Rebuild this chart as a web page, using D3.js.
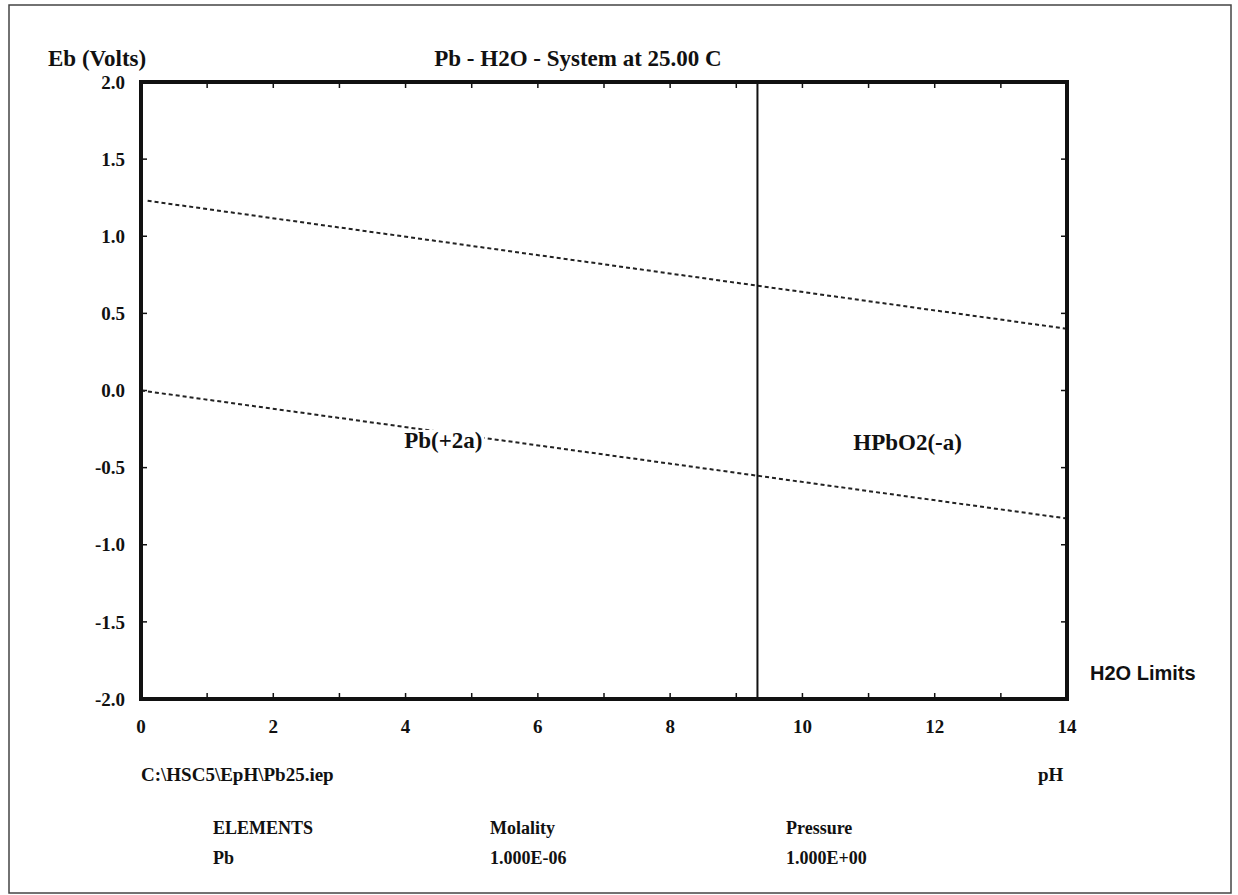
<!DOCTYPE html>
<html lang="en">

<head>
    <meta charset="UTF-8">
    <title>Pb - H2O - System</title>
    <script src="https://d3js.org/d3.v7.min.js"></script>
    <style>
        body {
            margin: 0;
            background: #fff;
        }

        text {
            font-family: "Liberation Serif", "Times New Roman", serif;
            font-weight: bold;
            font-size: 19px;
            fill: #111;
        }

        .big {
            font-size: 23px;
        }

        .foot {
            font-size: 18px;
        }

        .sans {
            font-family: "Liberation Sans", Arial, sans-serif;
            font-weight: bold;
            font-size: 20px;
        }
    </style>
</head>

<body>
    <svg id="chart" width="1238" height="895"></svg>

    <script>
        // Values
        const xTicks = [0, 1, 2, 3, 4, 5, 6, 7, 8, 9, 10, 11, 12, 13, 14];
        const xTickLabels = [0, 2, 4, 6, 8, 10, 12, 14];
        const yTicks = [2.0, 1.5, 1.0, 0.5, 0.0, -0.5, -1.0, -1.5, -2.0];

        // water stability limits (dashed)
        const upperLimit = [{ ph: 0.1, eb: 1.23 }, { ph: 14, eb: 0.40 }];
        const lowerLimit = [{ ph: 0, eb: 0.0 }, { ph: 14, eb: -0.83 }];

        // Pb(+2a) / HPbO2(-a) boundary
        const boundaryPh = 9.32;

        const regions = [
            { name: "Pb(+2a)", ph: 4.57, eb: -0.32 },
            { name: "HPbO2(-a)", ph: 11.59, eb: -0.335 }
        ];

        const elements = ["Pb"];
        const molality = ["1.000E-06"];
        const pressure = ["1.000E+00"];

        const svg = d3.select("#chart");

        // page frame
        svg.append("rect")
            .attr("x", 9).attr("y", 5)
            .attr("width", 1222).attr("height", 888)
            .attr("fill", "none")
            .attr("stroke", "#444")
            .attr("stroke-width", 1.5);

        const x = d3.scaleLinear().domain([0, 14]).range([141, 1067]);
        const y = d3.scaleLinear().domain([-2, 2]).range([699, 82]);

        // inward ticks on all four sides
        const tickLen = 6;
        svg.append("g").selectAll("line.bt")
            .data(xTicks).enter().append("line")
            .attr("x1", d => x(d)).attr("x2", d => x(d))
            .attr("y1", y(-2)).attr("y2", y(-2) - tickLen)
            .attr("stroke", "#111").attr("stroke-width", 1.5);
        svg.append("g").selectAll("line.tt")
            .data(xTicks).enter().append("line")
            .attr("x1", d => x(d)).attr("x2", d => x(d))
            .attr("y1", y(2)).attr("y2", y(2) + tickLen)
            .attr("stroke", "#111").attr("stroke-width", 1.5);
        svg.append("g").selectAll("line.lt")
            .data(yTicks).enter().append("line")
            .attr("x1", x(0)).attr("x2", x(0) + tickLen)
            .attr("y1", d => y(d)).attr("y2", d => y(d))
            .attr("stroke", "#111").attr("stroke-width", 1.5);
        svg.append("g").selectAll("line.rt")
            .data(yTicks).enter().append("line")
            .attr("x1", x(14)).attr("x2", x(14) - tickLen)
            .attr("y1", d => y(d)).attr("y2", d => y(d))
            .attr("stroke", "#111").attr("stroke-width", 1.5);

        // tick labels
        svg.append("g").selectAll("text")
            .data(xTickLabels).enter().append("text")
            .attr("x", d => x(d))
            .attr("y", y(-2) + 34)
            .attr("text-anchor", "middle")
            .text(d => d);

        svg.append("g").selectAll("text")
            .data(yTicks).enter().append("text")
            .attr("x", x(0) - 16)
            .attr("y", d => y(d))
            .attr("dy", "0.35em")
            .attr("text-anchor", "end")
            .text(d => d.toFixed(1));

        // H2O limit lines
        const line = d3.line().x(d => x(d.ph)).y(d => y(d.eb));
        [upperLimit, lowerLimit].forEach(l => {
            svg.append("path")
                .datum(l)
                .attr("d", line)
                .attr("fill", "none")
                .attr("stroke", "#222")
                .attr("stroke-width", 2)
                .attr("stroke-dasharray", "4,3");
        });

        // phase boundary
        svg.append("line")
            .attr("x1", x(boundaryPh)).attr("x2", x(boundaryPh))
            .attr("y1", y(2)).attr("y2", y(-2))
            .attr("stroke", "#111").attr("stroke-width", 2);

        // region labels, masking the dashed line behind them
        const lab = svg.append("g").selectAll("g")
            .data(regions).enter().append("g")
            .attr("transform", d => `translate(${x(d.ph)},${y(d.eb)})`);
        lab.append("text")
            .attr("class", "big")
            .attr("text-anchor", "middle")
            .attr("dy", "0.35em")
            .text(d => d.name)
            .each(function () {
                const b = this.getBBox();
                d3.select(this.parentNode).insert("rect", "text")
                    .attr("x", b.x - 2).attr("y", b.y + 2)
                    .attr("width", b.width + 4).attr("height", b.height - 4)
                    .attr("fill", "#fff");
            });

        // plot frame
        svg.append("rect")
            .attr("x", x(0)).attr("y", y(2))
            .attr("width", x(14) - x(0)).attr("height", y(-2) - y(2))
            .attr("fill", "none")
            .attr("stroke", "#111")
            .attr("stroke-width", 4);

        // titles
        svg.append("text").attr("class", "big")
            .attr("x", 48).attr("y", 66).text("Eb (Volts)");
        svg.append("text").attr("class", "big")
            .attr("x", 578).attr("y", 66)
            .attr("text-anchor", "middle")
            .text("Pb - H2O - System at 25.00 C");
        svg.append("text").attr("class", "sans")
            .attr("x", 1090).attr("y", 680).text("H2O Limits");
        svg.append("text").attr("x", x(0)).attr("y", 781).text("C:\\HSC5\\EpH\\Pb25.iep");
        svg.append("text").attr("x", 1038).attr("y", 781).text("pH");

        // footer table
        const cols = [
            { head: "ELEMENTS", vals: elements, x: 213 },
            { head: "Molality", vals: molality, x: 490 },
            { head: "Pressure", vals: pressure, x: 786 }
        ];
        cols.forEach(c => {
            svg.append("text").attr("class", "foot")
                .attr("x", c.x).attr("y", 834).text(c.head);
            c.vals.forEach((v, i) => {
                svg.append("text").attr("class", "foot")
                    .attr("x", c.x).attr("y", 864 + i * 29).text(v);
            });
        });
    </script>
</body>

</html>
